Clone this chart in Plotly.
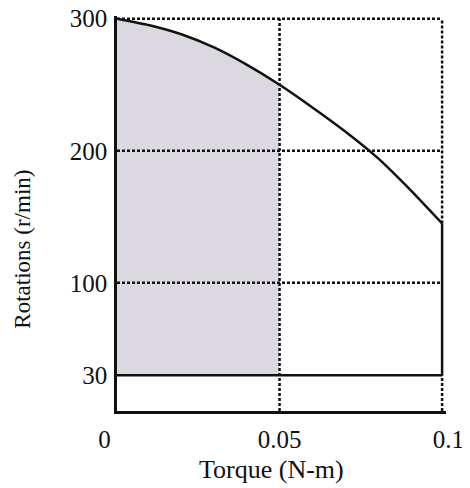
import plotly.graph_objects as go

# Data
torque = [0, 0.01, 0.02, 0.03, 0.04, 0.05, 0.06, 0.07, 0.08, 0.09, 0.1]
rpm = [300, 295, 288, 278, 265, 250, 233, 215, 195, 171, 145]
min_rpm = 30
max_rpm = 300
rated_torque = 0.05
max_torque = 0.1
y_ticks = [30, 100, 200, 300]
x_ticks = [0, 0.05, 0.1]
x_tick_labels = ["0\u2007\u2007", "0.05", "\u20070.1"]
y_bottom = 3

BLACK = "#111111"
FILL = "#dbd9df"
FONT = "Liberation Serif"

fig = go.Figure()

# Shaded continuous operating region (0 .. rated torque, 30 .. curve)
fx = [t for t in torque if t <= rated_torque]
fy = [r for t, r in zip(torque, rpm) if t <= rated_torque]
fig.add_trace(go.Scatter(
    x=fx + [rated_torque, 0], y=fy + [min_rpm, min_rpm],
    fill="toself", fillcolor=FILL, mode="none", hoverinfo="skip"))

# Dotted grid lines
dot = dict(color=BLACK, width=2.5, dash="3px,2px")
for yv in [100, 200, max_rpm]:
    fig.add_trace(go.Scatter(x=[0, max_torque], y=[yv, yv], mode="lines", line=dot))
fig.add_trace(go.Scatter(x=[rated_torque, rated_torque], y=[y_bottom, max_rpm],
                         mode="lines", line=dot))
fig.add_trace(go.Scatter(x=[max_torque, max_torque], y=[y_bottom, min_rpm],
                         mode="lines", line=dot))
fig.add_trace(go.Scatter(x=[max_torque, max_torque], y=[rpm[-1], max_rpm],
                         mode="lines", line=dot))

# Solid lines
solid = dict(color=BLACK, width=2.5)
fig.add_trace(go.Scatter(x=[0, max_torque], y=[min_rpm, min_rpm], mode="lines", line=solid))
fig.add_trace(go.Scatter(x=[max_torque, max_torque], y=[min_rpm, rpm[-1]],
                         mode="lines", line=solid))
fig.add_trace(go.Scatter(x=torque, y=rpm, mode="lines",
                         line=dict(color=BLACK, width=2.5, shape="spline", smoothing=0.6)))

fig.update_layout(
    width=462, height=480,
    margin=dict(l=109, r=24, t=8, b=77),
    paper_bgcolor="white", plot_bgcolor="white",
    showlegend=False,
    font=dict(family=FONT, color=BLACK),
    xaxis=dict(range=[0, 0.1012], tickvals=x_ticks, ticktext=x_tick_labels,
               showgrid=False, zeroline=False, showline=True, linecolor=BLACK,
               linewidth=2.5, tickfont=dict(size=25, family=FONT, color=BLACK),
               ticklabelstandoff=4, ticklabeloverflow="allow", automargin=False),
    yaxis=dict(range=[y_bottom, 302], tickvals=y_ticks,
               showgrid=False, zeroline=False, showline=True, linecolor=BLACK,
               linewidth=2.5, tickfont=dict(size=25, family=FONT, color=BLACK),
               ticklabelstandoff=2, ticklabeloverflow="allow", automargin=False),
    annotations=[
        dict(text="Rotations (r/min)", xref="paper", yref="paper",
             x=-0.29, y=0.41, xanchor="center", yanchor="middle",
             textangle=-90, showarrow=False,
             font=dict(size=23, family=FONT, color=BLACK)),
        dict(text="Torque (N-m)", xref="paper", yref="paper",
             x=0.47, y=-0.148, xanchor="center", yanchor="middle",
             showarrow=False, font=dict(size=26, family=FONT, color=BLACK)),
    ],
)

fig.write_html("out.html")
